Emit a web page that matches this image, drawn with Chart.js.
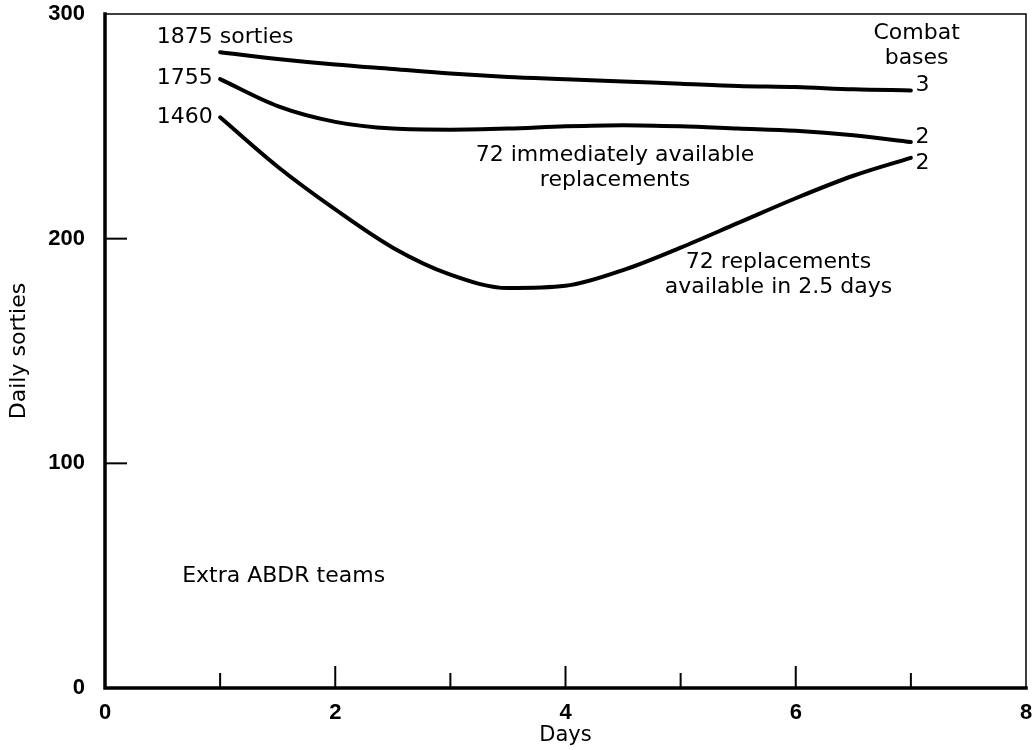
<!DOCTYPE html>
<html>
<head>
<meta charset="utf-8">
<script src="https://cdn.jsdelivr.net/npm/chart.js@4/dist/chart.umd.min.js"></script>
<style>
    html, body { margin: 0; padding: 0; background: #fff; }
    #wrap { width: 1033px; height: 750px; }
</style>
</head>
<body>
<div id="wrap"><canvas id="sortiesChart" width="1033" height="750"></canvas></div>
<script>
// Data
const days = [1, 1.5, 2, 2.5, 3, 3.5, 4, 4.5, 5, 5.5, 6, 6.5, 7];
const sorties1875 = [283, 280, 277.5, 275.5, 273.5, 272, 271, 270, 269, 268, 267.5, 266.5, 266];
const sorties1755 = [271, 259, 252, 249, 248.5, 249, 250, 250.5, 250, 249, 248, 246, 243];
const sorties1460 = [254, 232, 213, 196, 184, 178, 179, 186, 196, 207, 218, 228, 236];

const xTickValues = [1, 2, 3, 4, 5, 6, 7];
const yTickValues = [100, 200];

// Text labels placed in data units
const notes = [
    { text: '1875 sorties', x: 0.45, y: 289.5, align: 'left' },
    { text: '1755', x: 0.45, y: 271.5, align: 'left' },
    { text: '1460', x: 0.45, y: 254, align: 'left' },
    { text: 'Combat', x: 7.05, y: 291.5, align: 'center' },
    { text: 'bases', x: 7.05, y: 280.4, align: 'center' },
    { text: '3', x: 7.1, y: 268.4, align: 'center' },
    { text: '2', x: 7.1, y: 245.2, align: 'center' },
    { text: '2', x: 7.1, y: 233.6, align: 'center' },
    { text: '72 immediately available', x: 4.43, y: 237.2, align: 'center' },
    { text: 'replacements', x: 4.43, y: 226.1, align: 'center' },
    { text: '72 replacements', x: 5.85, y: 189.6, align: 'center' },
    { text: 'available in 2.5 days', x: 5.85, y: 178.5, align: 'center' },
    { text: 'Extra ABDR teams', x: 0.67, y: 49.8, align: 'left' }
];

const toPoints = (ys) => days.map((d, i) => ({ x: d, y: ys[i] }));

const lineStyle = {
    borderColor: '#000',
    borderWidth: 4,
    pointRadius: 0,
    fill: false,
    cubicInterpolationMode: 'monotone',
    borderCapStyle: 'round'
};

const framePlugin = {
    id: 'frame',
    afterDraw(chart) {
        const { ctx, chartArea: a, scales } = chart;
        ctx.save();
        ctx.strokeStyle = '#000';
        ctx.lineCap = 'square';

        // top and right edges (thin)
        ctx.lineWidth = 1.5;
        ctx.beginPath();
        ctx.moveTo(a.left, a.top);
        ctx.lineTo(a.right, a.top);
        ctx.lineTo(a.right, a.bottom);
        ctx.stroke();

        // left and bottom axes (heavy)
        ctx.lineWidth = 3.5;
        ctx.beginPath();
        ctx.moveTo(a.left, a.top);
        ctx.lineTo(a.left, a.bottom);
        ctx.lineTo(a.right, a.bottom);
        ctx.stroke();

        // inward tick marks
        ctx.lineWidth = 2;
        ctx.lineCap = 'butt';
        xTickValues.forEach(v => {
            const px = scales.x.getPixelForValue(v);
            const len = v % 2 === 0 ? 22 : 15;
            ctx.beginPath();
            ctx.moveTo(px, a.bottom);
            ctx.lineTo(px, a.bottom - len);
            ctx.stroke();
        });
        yTickValues.forEach(v => {
            const py = scales.y.getPixelForValue(v);
            ctx.beginPath();
            ctx.moveTo(a.left, py);
            ctx.lineTo(a.left + 22, py);
            ctx.stroke();
        });

        // annotations
        ctx.fillStyle = '#000';
        ctx.font = '22px "DejaVu Sans"';
        ctx.textBaseline = 'middle';
        notes.forEach(n => {
            ctx.textAlign = n.align;
            ctx.fillText(n.text, scales.x.getPixelForValue(n.x), scales.y.getPixelForValue(n.y));
        });
        ctx.restore();
    }
};

new Chart(document.getElementById('sortiesChart'), {
    type: 'line',
    data: {
        datasets: [
            { label: '1875 sorties', data: toPoints(sorties1875), ...lineStyle },
            { label: '1755', data: toPoints(sorties1755), ...lineStyle },
            { label: '1460', data: toPoints(sorties1460), ...lineStyle }
        ]
    },
    options: {
        responsive: false,
        animation: false,
        layout: { padding: { top: 14, right: 7, left: 0, bottom: 0 } },
        plugins: {
            legend: { display: false },
            tooltip: { enabled: false }
        },
        scales: {
            x: {
                type: 'linear',
                min: 0,
                max: 8,
                afterFit: (scale) => {
                    scale.height = 62;
                    scale.paddingLeft = 0;
                    scale.paddingRight = 0;
                },
                grid: { display: false, drawTicks: false },
                border: { display: false },
                ticks: {
                    stepSize: 1,
                    autoSkip: false,
                    maxRotation: 0,
                    padding: 12,
                    color: '#000',
                    font: { family: 'Liberation Sans', size: 22, weight: 'bold' },
                    callback: (v) => (v % 2 === 0 ? String(v) : '')
                },
                title: {
                    display: true,
                    text: 'Days',
                    color: '#000',
                    font: { family: 'DejaVu Sans', size: 21 },
                    padding: { top: 0, bottom: 2 }
                }
            },
            y: {
                type: 'linear',
                min: 0,
                max: 300,
                afterFit: (scale) => {
                    scale.width = 105;
                    scale.paddingTop = 0;
                    scale.paddingBottom = 0;
                },
                grid: { display: false, drawTicks: false },
                border: { display: false },
                ticks: {
                    stepSize: 100,
                    padding: 20,
                    color: '#000',
                    font: { family: 'Liberation Sans', size: 22, weight: 'bold' }
                },
                title: {
                    display: true,
                    text: 'Daily sorties',
                    color: '#000',
                    font: { family: 'DejaVu Sans', size: 22 },
                    padding: { top: 6, bottom: 0 }
                }
            }
        }
    },
    plugins: [framePlugin]
});
</script>
</body>
</html>
